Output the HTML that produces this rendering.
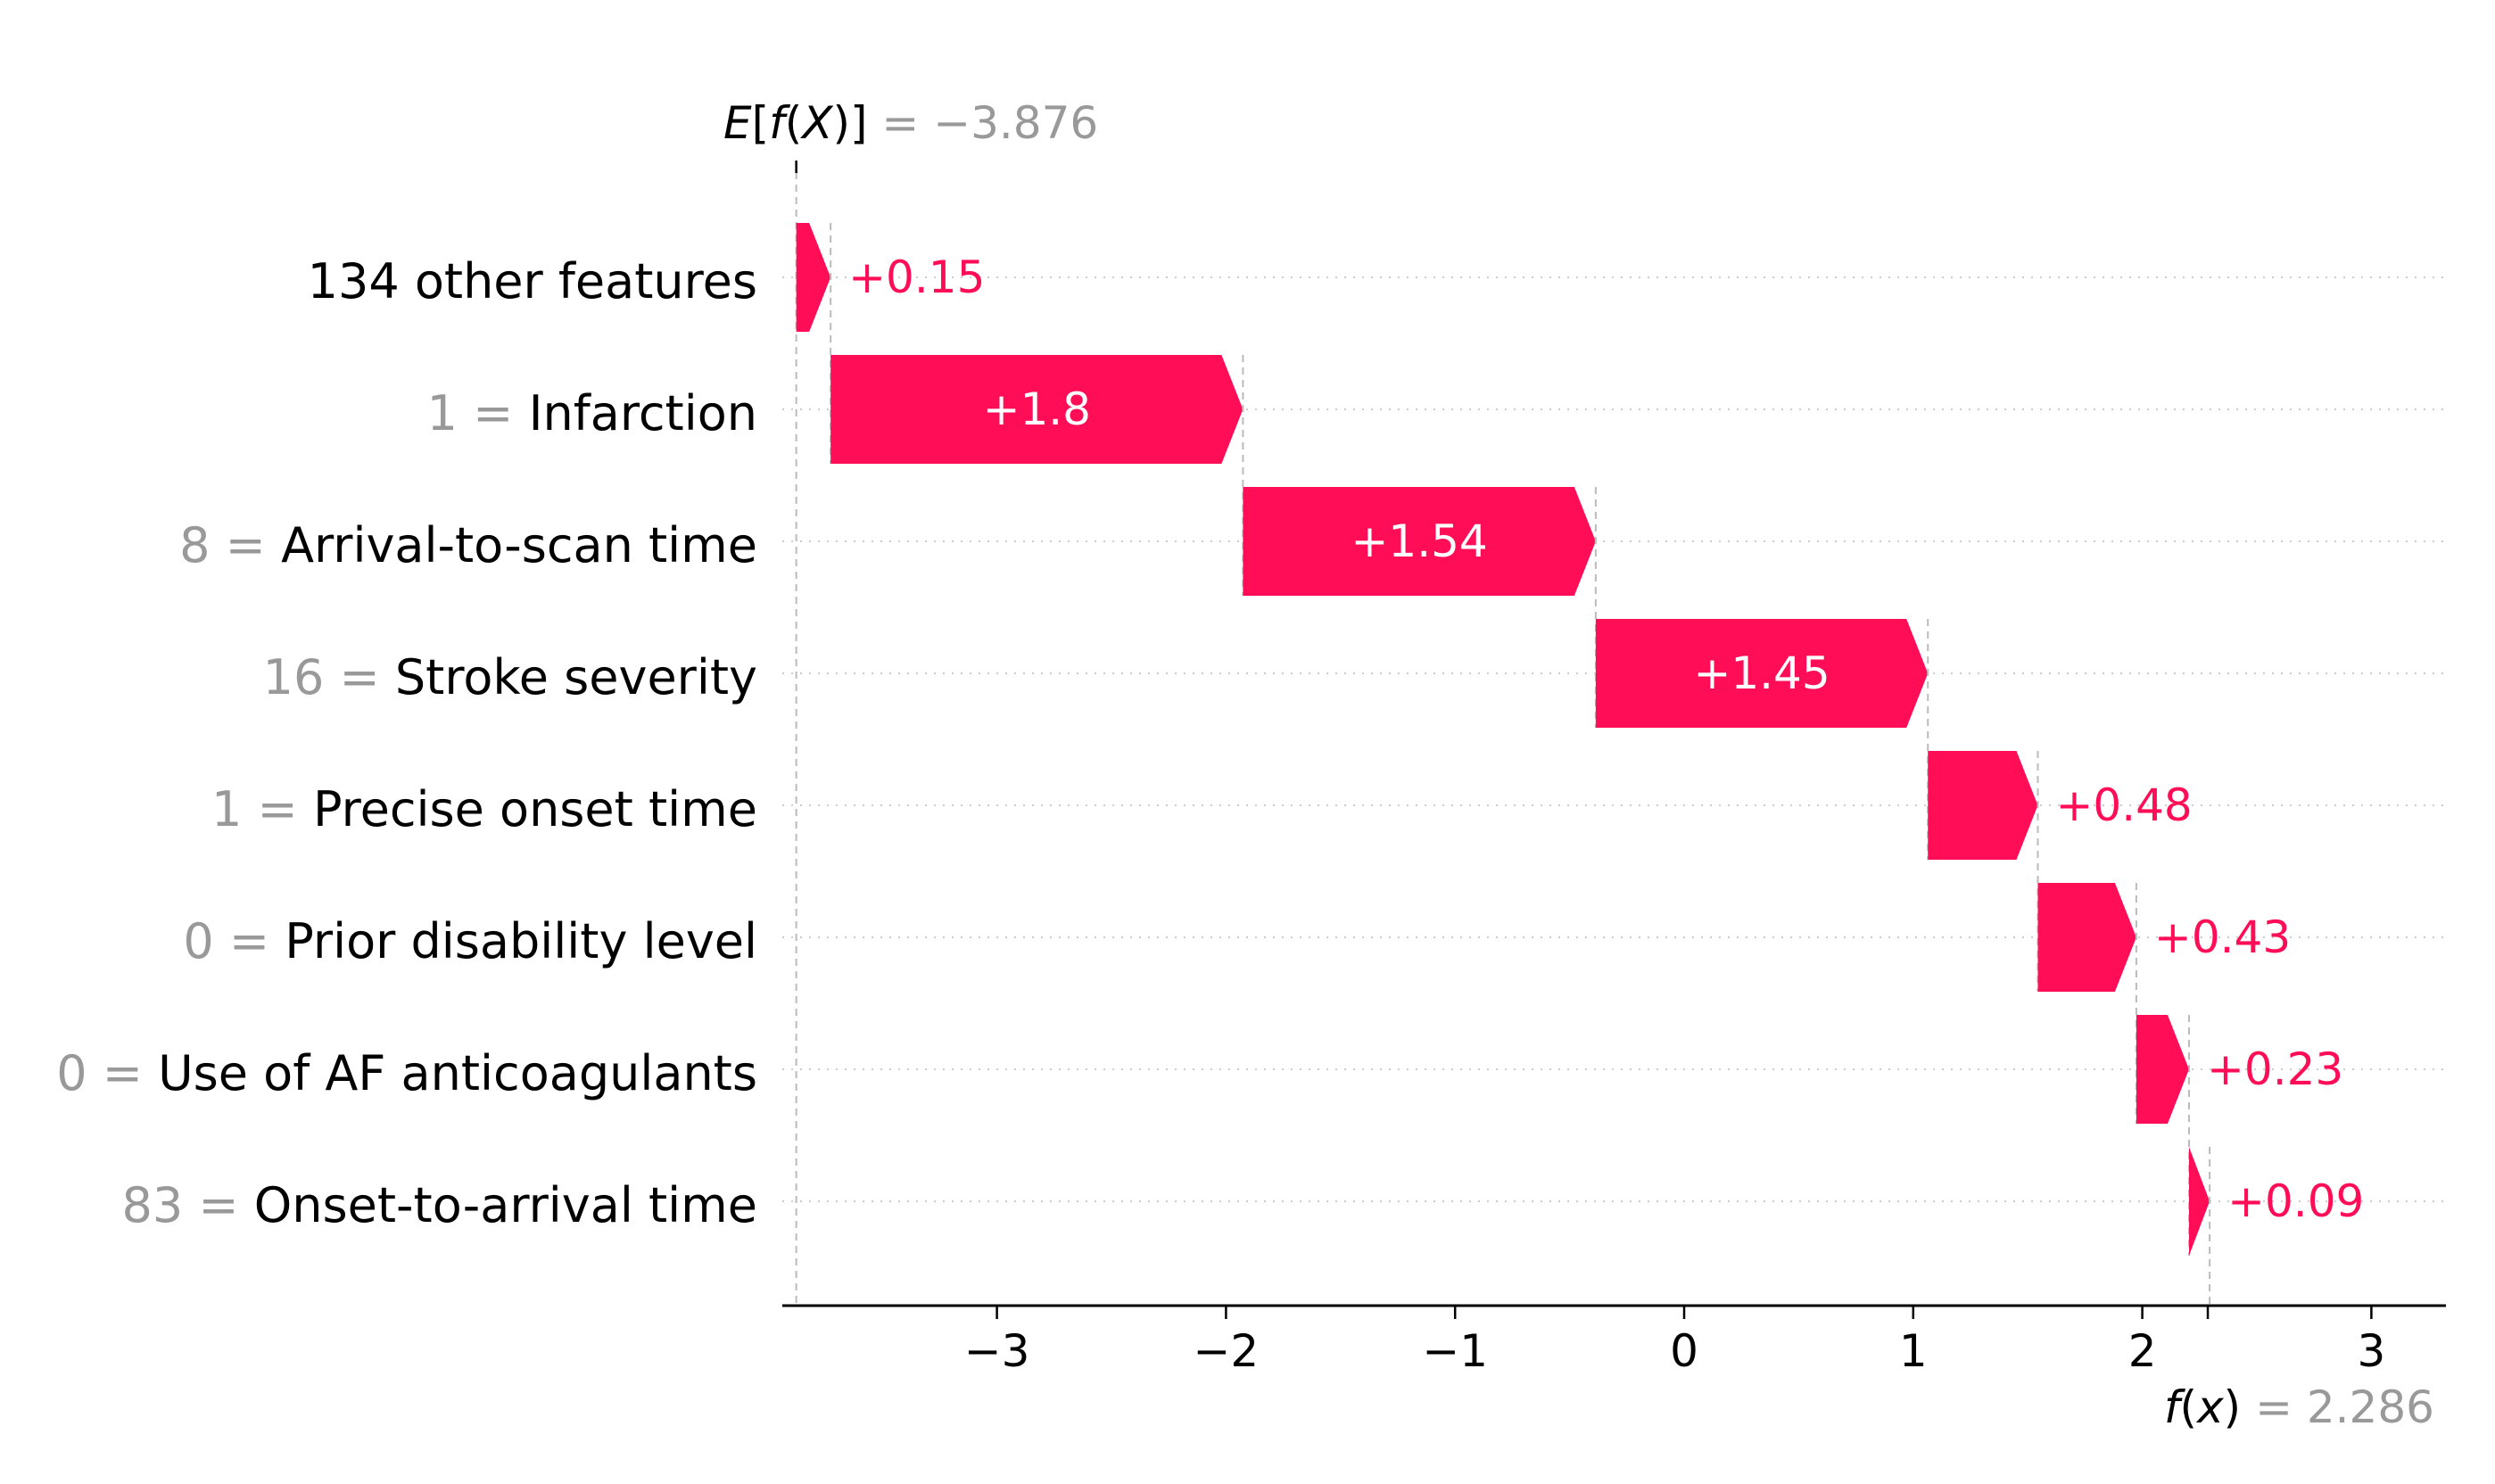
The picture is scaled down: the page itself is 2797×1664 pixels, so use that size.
<!DOCTYPE html>
<html><head><meta charset="utf-8"><style>
html,body{margin:0;padding:0;background:#fff;}
svg{display:block;font-family:"DejaVu Sans","Liberation Sans",sans-serif;}
</style></head><body>
<svg id="chart" width="2797" height="1664" viewBox="0 0 2797 1664"></svg>
<script>
const features = ["134 other features","Infarction","Arrival-to-scan time","Stroke severity","Precise onset time","Prior disability level","Use of AF anticoagulants","Onset-to-arrival time"];
const featureValues = ["","1","8","16","1","0","0","83"];
const shapValues = [0.15,1.8,1.54,1.45,0.48,0.43,0.23,0.09];
const valueLabels = ["+0.15","+1.8","+1.54","+1.45","+0.48","+0.43","+0.23","+0.09"];
const baseValue = -3.876;
const finalValue = 2.286;
const xTicks = [-3,-2,-1,0,1,2,3];
const xTickLabels = ["\u22123","\u22122","\u22121","0","1","2","3"];

const NS="http://www.w3.org/2000/svg";
const svg=document.getElementById('chart');
const X0=1888, UNIT=256.8;
function xs(v){return X0+v*UNIT;}
const ROW0=311, ROWH=148, BARH=122;
function ys(i){return ROW0+i*ROWH;}
const AXY=1464, AXL=877, AXR=2742;
const PINK="#ff0d57", GRAY="#999999";
function el(tag,attrs,parent){const e=document.createElementNS(NS,tag);for(const k in attrs)e.setAttribute(k,attrs[k]);(parent||svg).appendChild(e);return e;}

features.forEach((f,i)=>{
  const g=el('line',{x1:AXL,x2:AXR,y1:ys(i),y2:ys(i),stroke:"#cccccc","stroke-width":2,"stroke-dasharray":"2 8"});
  
  
});
const bl=el('line',{x1:xs(baseValue),x2:xs(baseValue),y1:193,y2:AXY,stroke:"#bbbbbb","stroke-width":2,"stroke-dasharray":"8 6"});


const bt=el('line',{x1:xs(baseValue),x2:xs(baseValue),y1:180,y2:194,stroke:"#000","stroke-width":2.5});



let cur=baseValue;
features.forEach((f,i)=>{
  const s=cur, e=cur+shapValues[i];
  const x1=xs(s), x2=xs(e), w=x2-x1;
  const head=Math.min(24,w);
  const yc=ys(i), yt=yc-BARH/2, yb=yc+BARH/2;
  const p=el('polygon',{points:`${x1},${yt} ${x2-head},${yt} ${x2},${yc} ${x2-head},${yb} ${x1},${yb}`,fill:PINK});
  
  
  const yEnd = i<features.length-1 ? ys(i+1)+BARH/2 : AXY;
  const c=el('line',{x1:x2,x2:x2,y1:yt,y2:yEnd,stroke:"#bbbbbb","stroke-width":2,"stroke-dasharray":"8 6"});
  
  
  let t;
  if(w>200){
    t=el('text',{x:(x1+x2)/2,y:yc,"text-anchor":"middle","dominant-baseline":"central","font-size":50,fill:"#fff"});
  } else {
    t=el('text',{x:x2+20,y:yc,"text-anchor":"start","dominant-baseline":"central","font-size":50,fill:PINK});
  }
  t.textContent=valueLabels[i];
  
  
  const yl=el('text',{x:849,y:yc+4,"text-anchor":"end","dominant-baseline":"central","font-size":54,fill:"#000"});
  if(featureValues[i]!==""){
    const ts=el('tspan',{fill:GRAY},yl); ts.textContent=featureValues[i]+" = ";
  }
  const ts2=el('tspan',{fill:"#000"},yl); ts2.textContent=f;
  
  
  cur=e;
});

const ax=el('line',{x1:AXL,x2:AXR,y1:AXY,y2:AXY,stroke:"#000","stroke-width":3});


xTicks.forEach((v,i)=>{
  const tk=el('line',{x1:xs(v),x2:xs(v),y1:AXY,y2:AXY+15,stroke:"#000","stroke-width":2.5});
  
  
  const tl=el('text',{x:xs(v),y:AXY+68,"text-anchor":"middle","font-size":50,fill:"#000"});
  tl.textContent=xTickLabels[i];
  
  
});
const ft=el('line',{x1:xs(finalValue),x2:xs(finalValue),y1:AXY,y2:AXY+15,stroke:"#000","stroke-width":2.5});



const el1=el('text',{x:811,y:155,"font-size":50,fill:"#000"});
const a1=el('tspan',{"font-style":"italic"},el1); a1.textContent="E";
const a2=el('tspan',{},el1); a2.textContent="[";
const a3=el('tspan',{"font-style":"italic"},el1); a3.textContent="f";
const a4=el('tspan',{},el1); a4.textContent="(";
const a5=el('tspan',{"font-style":"italic"},el1); a5.textContent="X";
const a6=el('tspan',{},el1); a6.textContent=")]";
const a7=el('tspan',{fill:GRAY},el1); a7.textContent=" = \u2212"+Math.abs(baseValue).toFixed(3);



const el2=el('text',{x:2729,y:1595,"text-anchor":"end","font-size":50,fill:"#000"});
const b1=el('tspan',{"font-style":"italic"},el2); b1.textContent="f";
const b2=el('tspan',{},el2); b2.textContent="(";
const b3=el('tspan',{"font-style":"italic"},el2); b3.textContent="x";
const b4=el('tspan',{},el2); b4.textContent=")";
const b5=el('tspan',{fill:GRAY},el2); b5.textContent=" = "+finalValue.toFixed(3);


</script>
</body></html>
